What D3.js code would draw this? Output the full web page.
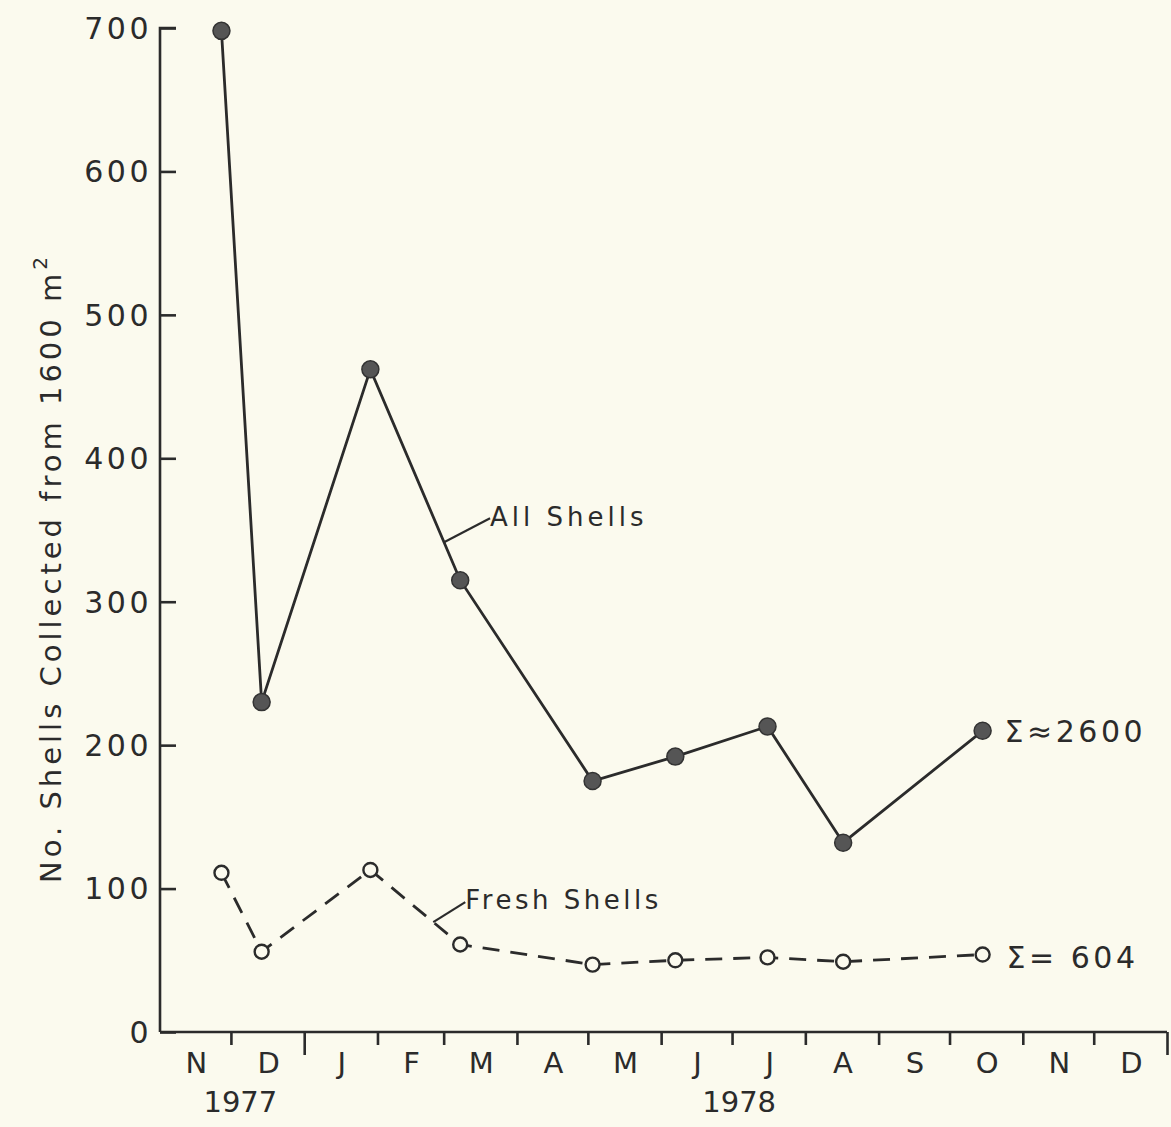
<!DOCTYPE html>
<html>
<head>
<meta charset="utf-8">
<script src="https://cdn.jsdelivr.net/npm/d3@7"></script>
<style>
  html, body { margin: 0; padding: 0; background: #fbfaee; }
  svg { display: block; }
  text { font-family: "DejaVu Sans", sans-serif; fill: #2b2b2b; }
</style>
</head>
<body>
<div id="chart"></div>
<script>
// sampling dates and counts
const sampleDates = ["1977-11-27", "1977-12-14", "1978-01-29", "1978-03-08", "1978-05-03",
                     "1978-06-07", "1978-07-16", "1978-08-17", "1978-10-15"];
const allShells = [698, 230, 462, 315, 175, 192, 213, 132, 210];
const freshShells = [111, 56, 113, 61, 47, 50, 52, 49, 54];
const monthLabels = ["N", "D", "J", "F", "M", "A", "M", "J", "J", "A", "S", "O", "N", "D"];
const yTicks = [0, 100, 200, 300, 400, 500, 600, 700];
const years = [{label: "1977", at: "1977-12-05"}, {label: "1978", at: "1978-07-04"}];

const W = 1171, H = 1127;
const parse = d3.timeParse("%Y-%m-%d");
const ink = "#2b2b2b";

const svg = d3.select("#chart").append("svg")
  .attr("width", W)
  .attr("height", H);

const x = d3.scaleTime()
  .domain([new Date(1977, 10, 1), new Date(1979, 0, 1)])
  .range([160, 1167]);

const y = d3.scaleLinear()
  .domain([0, 700])
  .range([1032, 28]);

// y axis: ticks pointing inward
const yAxis = svg.append("g")
  .attr("transform", `translate(${x.range()[0]},0)`)
  .call(d3.axisRight(y).tickValues(yTicks).tickSize(16).tickFormat(""));
yAxis.select(".domain").attr("d", `M16,${y(700)}H0V${y(0)}`);
yAxis.selectAll("line, path").attr("stroke", ink).attr("stroke-width", 2.6);

svg.append("g").selectAll("text")
  .data(yTicks)
  .join("text")
  .attr("x", 152)
  .attr("y", d => y(d))
  .attr("dy", "0.36em")
  .attr("text-anchor", "end")
  .attr("font-size", 30)
  .attr("letter-spacing", 3.5)
  .text(d => d);

// x axis: month boundaries, ticks pointing down
const monthStarts = d3.timeMonth.range(new Date(1977, 11, 1), new Date(1979, 0, 2));
const xAxis = svg.append("g")
  .attr("transform", `translate(0,${y(0)})`)
  .call(d3.axisBottom(x).tickValues(monthStarts).tickSizeInner(13).tickSizeOuter(0).tickFormat(""));
xAxis.select(".domain").attr("d", `M${x.range()[0]},0H${x.range()[1]}`);
xAxis.selectAll("line, path").attr("stroke", ink).attr("stroke-width", 2.6);
// year boundary and end ticks are longer
xAxis.selectAll(".tick line")
  .attr("y2", d => (d.getMonth() === 0 || d.getFullYear() === 1979) ? 23 : 13);

const months = d3.timeMonth.range(new Date(1977, 10, 1), new Date(1979, 0, 1));
svg.append("g").selectAll("text")
  .data(months)
  .join("text")
  .attr("x", (d, i) => (x(d) + x(d3.timeMonth.offset(d, 1))) / 2 + 1)
  .attr("y", 1063)
  .attr("dy", "0.36em")
  .attr("text-anchor", "middle")
  .attr("font-size", 29)
  .text((d, i) => monthLabels[i]);

svg.append("g").selectAll("text")
  .data(years)
  .join("text")
  .attr("x", d => x(parse(d.at)))
  .attr("y", 1102)
  .attr("dy", "0.36em")
  .attr("text-anchor", "middle")
  .attr("font-size", 29)
  .text(d => d.label);

// y axis title
const title = svg.append("text")
  .attr("transform", `translate(61,${(y(0) + y(700)) / 2 + 38}) rotate(-90)`)
  .attr("text-anchor", "middle")
  .attr("font-size", 29)
  .attr("letter-spacing", 4);
title.append("tspan").text("No. Shells Collected from 1600 m");
title.append("tspan").attr("font-size", 20).attr("dy", -14).text("2");

// series
const allData = sampleDates.map((d, i) => ({date: parse(d), v: allShells[i]}));
const freshData = sampleDates.map((d, i) => ({date: parse(d), v: freshShells[i]}));

const line = d3.line().x(d => x(d.date)).y(d => y(d.v));

svg.append("path")
  .datum(allData)
  .attr("d", line)
  .attr("fill", "none")
  .attr("stroke", ink)
  .attr("stroke-width", 2.8);

svg.append("path")
  .datum(freshData)
  .attr("d", line)
  .attr("fill", "none")
  .attr("stroke", ink)
  .attr("stroke-width", 2.8)
  .attr("stroke-dasharray", "17,11");

svg.append("g").selectAll("circle")
  .data(allData)
  .join("circle")
  .attr("cx", d => x(d.date))
  .attr("cy", d => y(d.v))
  .attr("r", 8.5)
  .attr("fill", "#555")
  .attr("stroke", "#333")
  .attr("stroke-width", 1.5);

svg.append("g").selectAll("circle")
  .data(freshData)
  .join("circle")
  .attr("cx", d => x(d.date))
  .attr("cy", d => y(d.v))
  .attr("r", 7)
  .attr("fill", "#fbfaee")
  .attr("stroke", ink)
  .attr("stroke-width", 2.4);

// labels with leader lines
function pointOn(data, i, t) {
  const a = data[i], b = data[i + 1];
  return [x(a.date) + t * (x(b.date) - x(a.date)), y(a.v) + t * (y(b.v) - y(a.v))];
}
const pA = pointOn(allData, 2, 0.82);
svg.append("line")
  .attr("x1", pA[0]).attr("y1", pA[1])
  .attr("x2", pA[0] + 46).attr("y2", pA[1] - 24)
  .attr("stroke", ink).attr("stroke-width", 2.2);
svg.append("text")
  .attr("x", pA[0] + 46).attr("y", pA[1] - 16)
  .attr("font-size", 26)
  .attr("letter-spacing", 4)
  .text("All Shells");

const pF = pointOn(freshData, 2, 0.7);
svg.append("line")
  .attr("x1", pF[0]).attr("y1", pF[1])
  .attr("x2", pF[0] + 32).attr("y2", pF[1] - 20)
  .attr("stroke", ink).attr("stroke-width", 2.2);
svg.append("text")
  .attr("x", pF[0] + 32).attr("y", pF[1] - 13)
  .attr("font-size", 26)
  .attr("letter-spacing", 3.5)
  .text("Fresh Shells");

const lastA = allData[allData.length - 1], lastF = freshData[freshData.length - 1];
svg.append("text")
  .attr("x", x(lastA.date) + 22).attr("y", y(lastA.v))
  .attr("dy", "0.36em")
  .attr("font-size", 30)
  .attr("letter-spacing", 3.5)
  .text("Σ≈2600");
svg.append("text")
  .attr("x", x(lastF.date) + 24).attr("y", y(lastF.v) + 3)
  .attr("dy", "0.36em")
  .attr("font-size", 30)
  .attr("letter-spacing", 3.5)
  .text("Σ= 604");
</script>
</body>
</html>
